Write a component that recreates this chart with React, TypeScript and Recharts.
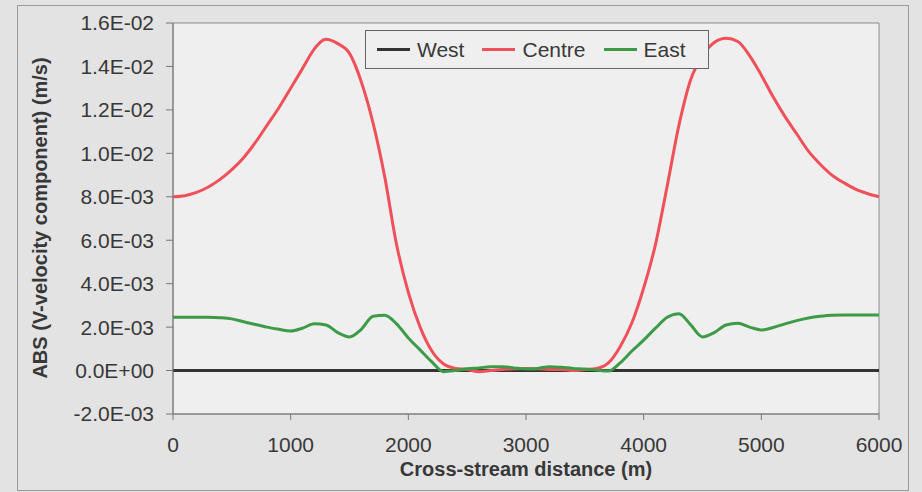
import { LineChart, Line, XAxis, YAxis, ReferenceArea } from "recharts";

const distance = [
  0, 100, 200, 300, 400, 500, 600, 700, 800, 900,
  1000, 1100, 1200, 1300, 1400, 1500, 1600, 1700, 1800, 1900,
  2000, 2100, 2200, 2300, 2400, 2500, 2600, 2700, 2800, 2900,
  3000, 3100, 3200, 3300, 3400, 3500, 3600, 3700, 3800, 3900,
  4000, 4100, 4200, 4300, 4400, 4500, 4600, 4700, 4800, 4900,
  5000, 5100, 5200, 5300, 5400, 5500, 5600, 5700, 5800, 5900,
  6000,
];

const west = [
  0, 0, 0, 0, 0, 0, 0, 0, 0, 0,
  0, 0, 0, 0, 0, 0, 0, 0, 0, 0,
  0, 0, 0, 0, 0, 0, 0, 0, 0, 0,
  0, 0, 0, 0, 0, 0, 0, 0, 0, 0,
  0, 0, 0, 0, 0, 0, 0, 0, 0, 0,
  0, 0, 0, 0, 0, 0, 0, 0, 0, 0,
  0,
];

const centre = [
  0.008, 0.00805, 0.0082, 0.00845, 0.0088, 0.00925, 0.0098, 0.0105, 0.0113, 0.0121,
  0.013, 0.0139, 0.0148, 0.01525, 0.01505, 0.0146, 0.0133, 0.0114, 0.0089, 0.0058,
  0.0036, 0.002, 0.0009, 0.0003, 0.0001, 0.00005, -0.00005, 0, 0.00005, 0.00008,
  0.0001, 0.00008, 0.00005, 0.00005, 0, 0.00005, 0.0001, 0.00035, 0.0011, 0.0022,
  0.0038, 0.0058, 0.0085, 0.0113, 0.0134, 0.0145, 0.0151, 0.0153, 0.01515, 0.0145,
  0.0136, 0.0126, 0.0117, 0.0109, 0.0101, 0.0095, 0.009, 0.00865, 0.00835, 0.00815,
  0.008,
];

const east = [
  0.00245, 0.00245, 0.00245, 0.00245, 0.00243, 0.00238, 0.00225, 0.00212, 0.002, 0.0019,
  0.00182, 0.00195, 0.00215, 0.0021, 0.00175, 0.00155, 0.0019, 0.0025, 0.00255, 0.00215,
  0.0015, 0.00095, 0.0004, -0.00005, 0, 0.00008, 0.00012, 0.00018, 0.00018, 0.00012,
  0.00007, 0.0001, 0.00018, 0.00015, 0.0001, 0.00007, 0.00002, -0.00002, 0.00035, 0.0009,
  0.0014, 0.00195, 0.00245, 0.00262, 0.0021, 0.00155, 0.00175, 0.0021, 0.00218, 0.002,
  0.00187, 0.00198, 0.00215, 0.0023, 0.00242, 0.0025, 0.00255, 0.00256, 0.00256, 0.00256,
  0.00256,
];

const xTicks = [0, 1000, 2000, 3000, 4000, 5000, 6000];
const yTicks = [-0.002, 0, 0.002, 0.004, 0.006, 0.008, 0.01, 0.012, 0.014, 0.016];

const seriesNames = ["West", "Centre", "East"];
const seriesColors = ["#333333", "#f0505a", "#3d9a47"];

const data = distance.map((x, i) => ({
  x,
  West: west[i],
  Centre: centre[i],
  East: east[i],
}));

const FONT = '"Liberation Sans", Arial, sans-serif';
const TEXT = "#383838";
const PLOT_BG = "#efefef";

function sci(v: number) {
  const [m, e] = v.toExponential(1).split("e");
  const sign = e.startsWith("-") ? "-" : "+";
  const digits = e.replace(/[+-]/, "").padStart(2, "0");
  return `${m}E${sign}${digits}`;
}

export default function App() {
  return (
    <div
      style={{
        position: "absolute",
        left: 0,
        top: 0,
        width: 922,
        height: 492,
        background: "#e3e3e3",
        fontFamily: FONT,
        overflow: "hidden",
      }}
    >
      <div
        style={{
          position: "absolute",
          left: 17,
          top: 5,
          width: 890,
          height: 484,
          border: "1px solid #9a9a9a",
        }}
      />
      <LineChart
        width={922}
        height={492}
        data={data}
        margin={{ top: 23, right: 43, bottom: 0, left: 0 }}
        style={{ position: "absolute", left: 0, top: 0 }}
      >
        <ReferenceArea
          x1={0}
          x2={6000}
          y1={-0.002}
          y2={0.016}
          fill={PLOT_BG}
          fillOpacity={1}
          stroke="#8a8a8a"
          strokeWidth={1}
        />
        <XAxis
          dataKey="x"
          type="number"
          domain={[0, 6000]}
          ticks={xTicks}
          height={78}
          tickSize={6}
          tickMargin={17}
          axisLine={{ stroke: "#777" }}
          tickLine={{ stroke: "#777" }}
          tick={{ fill: TEXT, fontSize: 21, fontFamily: FONT }}
        />
        <YAxis
          type="number"
          domain={[-0.002, 0.016]}
          ticks={yTicks}
          width={173}
          tickSize={7}
          tickMargin={12}
          tickFormatter={sci}
          axisLine={{ stroke: "#777" }}
          tickLine={{ stroke: "#777" }}
          tick={{ fill: TEXT, fontSize: 21, fontFamily: FONT }}
          interval={0}
        />
        {seriesNames.map((name, i) => (
          <Line
            key={name}
            type="monotone"
            dataKey={name}
            stroke={seriesColors[i]}
            strokeWidth={3}
            dot={false}
            isAnimationActive={false}
          />
        ))}
      </LineChart>

      <div
        style={{
          position: "absolute",
          left: 0,
          top: 457,
          width: 1052,
          textAlign: "center",
          fontSize: 20,
          fontWeight: "bold",
          color: TEXT,
          lineHeight: "24px",
        }}
      >
        Cross-stream distance (m)
      </div>
      <div
        style={{
          position: "absolute",
          left: 40,
          top: 218,
          transform: "translate(-50%, -50%) rotate(-90deg)",
          whiteSpace: "nowrap",
          fontSize: 20,
          fontWeight: "bold",
          color: TEXT,
          lineHeight: "24px",
        }}
      >
        ABS (V-velocity component) (m/s)
      </div>

      <div
        style={{
          position: "absolute",
          left: 365,
          top: 30,
          width: 331,
          height: 37,
          border: "1px solid #666",
          background: PLOT_BG,
          display: "flex",
          alignItems: "center",
          paddingLeft: 11,
          boxSizing: "content-box",
          fontSize: 21,
          color: TEXT,
        }}
      >
        {seriesNames.map((name, i) => (
          <div
            key={name}
            style={{ display: "flex", alignItems: "center", marginRight: 18 }}
          >
            <div
              style={{
                width: 33,
                height: 3,
                background: seriesColors[i],
                marginRight: 7,
              }}
            />
            <span>{name}</span>
          </div>
        ))}
      </div>
    </div>
  );
}
